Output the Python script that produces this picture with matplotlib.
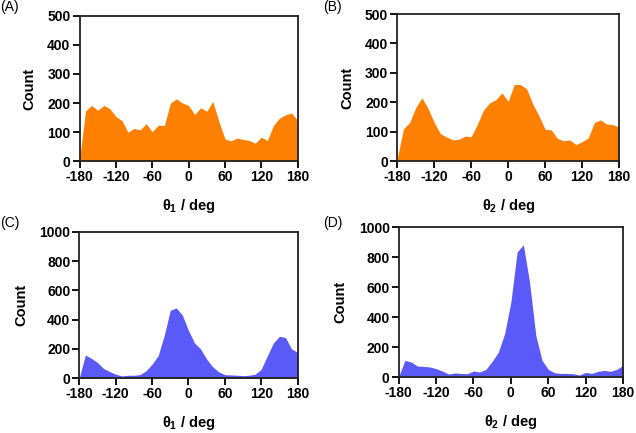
import numpy as np
import matplotlib
matplotlib.use("Agg")
import matplotlib.pyplot as plt

plt.rcParams['font.family'] = ['Liberation Sans', 'DejaVu Sans']
plt.rcParams['mathtext.fontset'] = 'custom'
plt.rcParams['mathtext.rm'] = 'Liberation Sans:bold'
plt.rcParams['mathtext.it'] = 'Liberation Sans:bold'
plt.rcParams['mathtext.bf'] = 'Liberation Sans:bold'
plt.rcParams['axes.unicode_minus'] = False

angles = list(range(-180, 181, 10))

theta1_md1 = [5, 173, 192, 175, 192, 181, 154, 140, 100, 113, 108, 129, 102, 124, 123,
              200, 215, 200, 192, 161, 184, 172, 206, 137, 77, 70, 80, 75, 72, 62,
              83, 71, 123, 148, 160, 166, 140]
theta2_md1 = [10, 110, 131, 182, 215, 179, 131, 93, 82, 72, 74, 85, 83, 125, 174,
              198, 209, 232, 203, 261, 260, 246, 194, 154, 108, 106, 77, 69, 72, 56,
              66, 79, 131, 140, 126, 124, 116]
theta1_md2 = [5, 159, 136, 108, 67, 46, 28, 16, 21, 21, 25, 51, 97, 154, 292,
              464, 480, 430, 326, 241, 200, 131, 78, 44, 25, 23, 21, 18, 21, 28,
              62, 154, 241, 287, 278, 200, 177]
theta2_md2 = [5, 111, 100, 73, 71, 67, 56, 40, 20, 27, 24, 22, 40, 33, 51,
              104, 167, 289, 500, 833, 882, 633, 278, 111, 51, 29, 24, 24, 22, 13,
              31, 24, 38, 44, 38, 51, 78]

x_ticks = [-180, -120, -60, 0, 60, 120, 180]
orange = '#FF8000'
blue = '#5A5AF8'

fig = plt.figure(figsize=(6.36, 4.33), dpi=100)

panels = [
    ([0.125, 0.6275, 0.343, 0.336], theta1_md1, orange, 500, 100, r'$\theta_1$ / deg', '(A)', (0.0, 0.999)),
    ([0.6247, 0.628, 0.3486, 0.3395], theta2_md1, orange, 500, 100, r'$\theta_2$ / deg', '(B)', (0.508, 0.999)),
    ([0.1247, 0.1263, 0.3433, 0.3386], theta1_md2, blue, 1000, 200, r'$\theta_1$ / deg', '(C)', (0.0, 0.501)),
    ([0.6269, 0.1293, 0.3527, 0.3464], theta2_md2, blue, 1000, 200, r'$\theta_2$ / deg', '(D)', (0.508, 0.501)),
]

for rect, vals, col, ymax, ystep, xl, tag, tpos in panels:
    ax = fig.add_axes(rect)
    ax.fill_between(angles, 0, vals, color=col, linewidth=0)
    ax.set_xlim(-180, 180)
    ax.set_ylim(0, ymax)
    ax.set_xticks(x_ticks)
    ax.set_yticks(np.arange(0, ymax + 1, ystep))
    ax.tick_params(direction='out', length=5, width=1.3, labelsize=10, pad=1.5)
    for lab in ax.get_xticklabels() + ax.get_yticklabels():
        lab.set_fontweight('bold')
    for sp in ax.spines.values():
        sp.set_linewidth(1.3)
        sp.set_color('#222222')
    ax.set_xlabel(xl, fontsize=10.5, fontweight='bold', labelpad=9)
    ax.set_ylabel('Count', fontsize=10.5, fontweight='bold', labelpad=8)
    fig.text(tpos[0], tpos[1], tag, fontsize=10, ha='left', va='top')

fig.savefig('out.png', dpi=100)
